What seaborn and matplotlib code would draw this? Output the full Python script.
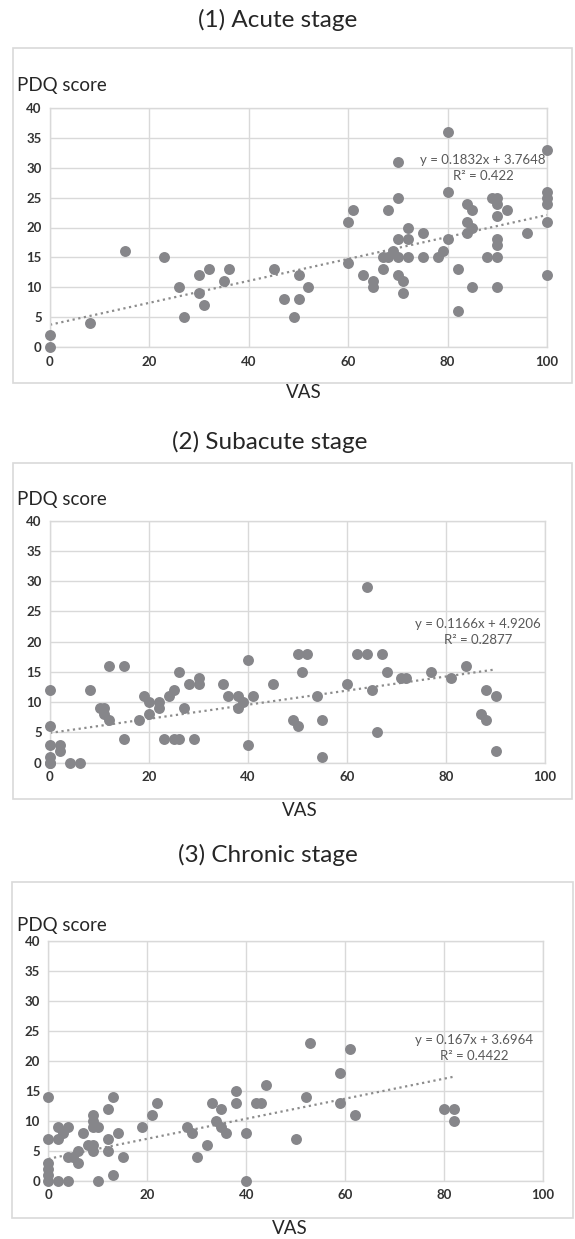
import matplotlib
matplotlib.use("Agg")
import matplotlib.pyplot as plt
import seaborn as sns
import pandas as pd
from matplotlib.patches import Rectangle

# -----------------------------------------------------------
# Data (VAS vs PDQ score)
# -----------------------------------------------------------
acute_vas = [0, 0, 8, 15, 23, 26, 27, 30, 30, 31, 32, 35, 36, 45, 47, 49, 50, 50, 52,
             60, 60, 61, 63, 65, 65, 67, 67, 68, 68, 69, 70, 70, 70, 70, 70, 71, 71,
             72, 72, 72, 75, 75, 78, 79, 80, 80, 80, 82, 82, 84, 84, 84, 85, 85, 85,
             88, 89, 90, 90, 90, 90, 90, 90, 90, 92, 96, 100, 100, 100, 100, 100, 100]
acute_pdq = [2, 0, 4, 16, 15, 10, 5, 12, 9, 7, 13, 11, 13, 13, 8, 5, 8, 12, 10,
             14, 21, 23, 12, 11, 10, 13, 15, 15, 23, 16, 15, 18, 25, 31, 12, 11, 9,
             15, 18, 20, 19, 15, 15, 16, 18, 26, 36, 13, 6, 24, 21, 19, 23, 20, 10,
             15, 25, 25, 24, 22, 18, 17, 15, 10, 23, 19, 33, 26, 25, 24, 21, 12]

subacute_vas = [0, 0, 0, 0, 0, 0, 2, 2, 4, 6, 8, 10, 11, 11, 12, 12, 15, 15, 18, 19,
                20, 20, 22, 22, 23, 24, 25, 25, 26, 26, 27, 28, 29, 30, 30, 35, 36,
                38, 38, 39, 40, 40, 41, 45, 49, 50, 50, 51, 52, 54, 55, 55, 60, 62,
                64, 64, 65, 66, 67, 68, 71, 72, 77, 81, 84, 87, 88, 88, 90, 90]
subacute_pdq = [12, 6, 3, 1, 0, 0, 3, 2, 0, 0, 12, 9, 9, 8, 7, 16, 16, 4, 7, 11,
                10, 8, 10, 9, 4, 11, 12, 4, 4, 15, 9, 13, 4, 14, 13, 13, 11,
                11, 9, 10, 17, 3, 11, 13, 7, 6, 18, 15, 18, 11, 7, 1, 13, 18,
                18, 29, 12, 5, 18, 15, 14, 14, 15, 14, 16, 8, 7, 12, 11, 2]

chronic_vas = [0, 0, 0, 0, 0, 0, 2, 2, 2, 3, 4, 4, 4, 5, 6, 6, 7, 8, 9, 9, 9, 9, 9,
               10, 10, 12, 12, 12, 13, 13, 14, 15, 19, 21, 22, 28, 29, 30, 32, 33,
               34, 35, 35, 36, 38, 38, 40, 40, 42, 43, 44, 50, 52, 53, 59, 59, 61,
               62, 80, 82, 82]
chronic_pdq = [14, 7, 3, 2, 1, 0, 0, 7, 9, 8, 9, 4, 0, 4, 5, 3, 8, 6, 11, 10, 9, 6, 5,
               9, 0, 12, 7, 5, 14, 1, 8, 4, 9, 11, 13, 9, 8, 4, 6, 13,
               10, 12, 9, 8, 15, 13, 8, 0, 13, 13, 16, 7, 14, 23, 18, 13, 22,
               11, 12, 12, 10]

# linear trendlines as printed on the chart
slopes = [0.1832, 0.1166, 0.167]
intercepts = [3.7648, 4.9206, 3.6964]
r_squared = ["0.422", "0.2877", "0.4422"]

titles = ["(1) Acute stage", "(2) Subacute stage", "(3) Chronic stage"]
x_ticks = [0, 20, 40, 60, 80, 100]
y_ticks = [0, 5, 10, 15, 20, 25, 30, 35, 40]

panels = [
    pd.DataFrame({"VAS": acute_vas, "PDQ": acute_pdq}),
    pd.DataFrame({"VAS": subacute_vas, "PDQ": subacute_pdq}),
    pd.DataFrame({"VAS": chronic_vas, "PDQ": chronic_pdq}),
]

# -----------------------------------------------------------
# Layout (pixel positions in a 575 x 1239 figure)
# -----------------------------------------------------------
W, H = 575, 1239
sns.set_style("whitegrid")
plt.rcParams['font.family'] = ['Lato', 'DejaVu Sans']

fig = plt.figure(figsize=(W / 100, H / 100), dpi=100)

# axes box: left, right, top, bottom (px)
ax_boxes = [(50, 547, 107.7, 347.3), (50, 545, 520.7, 762.7), (48.3, 543, 941, 1181)]
# outer frame: left, right, top, bottom (px)
frames = [(13, 572, 48, 383), (13, 572, 463, 799), (12, 573, 882, 1218)]
title_pos = [(278, 20), (270, 442), (268, 855)]
vas_pos = [(304, 393), (300, 811), (290, 1228)]
pdq_y = [86, 500, 925]
eq_pos = [(483, 168), (478, 632), (474, 1048)]

grey = '#d9d9d9'
point_color = '#86868a'

for i, df in enumerate(panels):
    fl, fr, ft, fb = frames[i]
    fig.patches.append(Rectangle((fl / W, 1 - fb / H), (fr - fl) / W, (fb - ft) / H,
                                 transform=fig.transFigure, fill=False,
                                 edgecolor=grey, linewidth=1.2))

    l, r, t, b = ax_boxes[i]
    ax = fig.add_axes([l / W, 1 - b / H, (r - l) / W, (b - t) / H])

    # dotted trendline over the data range
    x_end = [df["VAS"].min(), df["VAS"].max()]
    trend = pd.DataFrame({"VAS": x_end,
                          "PDQ": [slopes[i] * v + intercepts[i] for v in x_end]})
    sns.lineplot(data=trend, x="VAS", y="PDQ", ax=ax, color='#8c8c8c',
                 linestyle=(0, (1, 1.6)), linewidth=1.6, zorder=2)

    sns.scatterplot(data=df, x="VAS", y="PDQ", ax=ax, s=62, color=point_color,
                    linewidth=0, clip_on=False, zorder=3)

    ax.set_xlim(0, 100)
    ax.set_ylim(0, 40)
    ax.set_xticks(x_ticks)
    ax.set_yticks(y_ticks)
    ax.set_xlabel("")
    ax.set_ylabel("")
    ax.grid(True, color=grey, linewidth=1)
    for sp in ax.spines.values():
        sp.set_color(grey)
        sp.set_linewidth(1)
    ax.tick_params(axis='both', length=0, labelsize=9.5, colors='#333333', pad=6)
    for lab in ax.get_xticklabels() + ax.get_yticklabels():
        lab.set_fontweight('bold')

    tx, ty = title_pos[i]
    fig.text(tx / W, 1 - ty / H, titles[i], ha='center', va='center',
             fontsize=17.5, color='#262626')
    vx, vy = vas_pos[i]
    fig.text(vx / W, 1 - vy / H, "VAS", ha='center', va='center',
             fontsize=13.5, color='#262626')
    fig.text(17 / W, 1 - pdq_y[i] / H, "PDQ score", ha='left', va='center',
             fontsize=13.5, color='#262626')
    ex, ey = eq_pos[i]
    eq = f"y = {slopes[i]}x + {intercepts[i]}\nR² = {r_squared[i]}"
    fig.text(ex / W, 1 - ey / H, eq, ha='center', va='center',
             fontsize=9.5, color='#595959', linespacing=1.35)

fig.savefig("out.png", dpi=100)
